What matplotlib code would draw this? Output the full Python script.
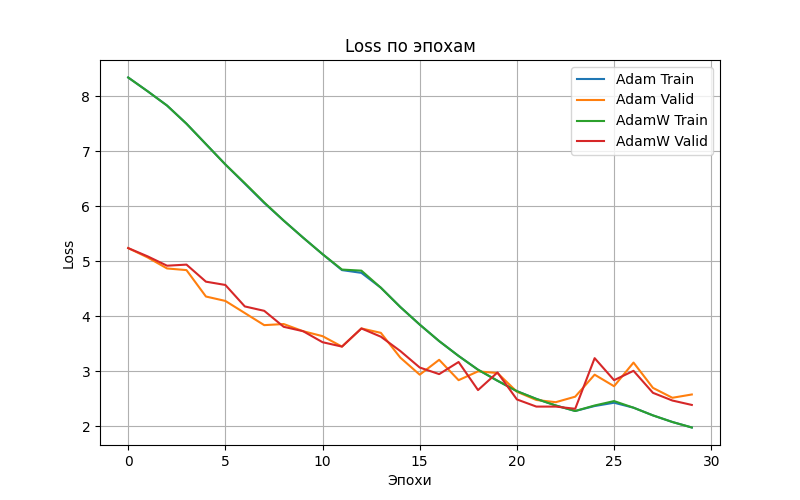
import matplotlib
matplotlib.use("Agg")
from matplotlib import pyplot as plt

epochs = list(range(30))
adam_train = [8.34, 8.09, 7.83, 7.50, 7.13, 6.76, 6.41, 6.06, 5.74, 5.43, 5.13, 4.84, 4.79, 4.52, 4.17,
              3.85, 3.55, 3.28, 3.03, 2.83, 2.64, 2.50, 2.38, 2.28, 2.37, 2.43, 2.34, 2.20, 2.08, 1.98]
adam_valid = [5.24, 5.07, 4.87, 4.84, 4.36, 4.28, 4.06, 3.84, 3.86, 3.73, 3.64, 3.45, 3.78, 3.70, 3.25,
              2.94, 3.21, 2.84, 3.00, 2.97, 2.63, 2.48, 2.44, 2.54, 2.94, 2.73, 3.16, 2.70, 2.52, 2.58]
adamw_train = [8.34, 8.09, 7.83, 7.50, 7.13, 6.76, 6.42, 6.07, 5.74, 5.43, 5.13, 4.85, 4.83, 4.52, 4.17,
               3.85, 3.55, 3.28, 3.03, 2.83, 2.64, 2.50, 2.38, 2.28, 2.38, 2.46, 2.34, 2.20, 2.08, 1.98]
adamw_valid = [5.24, 5.09, 4.92, 4.94, 4.63, 4.57, 4.18, 4.10, 3.81, 3.73, 3.53, 3.45, 3.78, 3.63, 3.37,
               3.07, 2.95, 3.17, 2.66, 2.98, 2.49, 2.36, 2.36, 2.32, 3.24, 2.84, 3.01, 2.61, 2.47, 2.39]

plt.figure(figsize=(8, 5), dpi=100)
plt.plot(epochs, adam_train, label='Adam Train')
plt.plot(epochs, adam_valid, label='Adam Valid')
plt.plot(epochs, adamw_train, label='AdamW Train')
plt.plot(epochs, adamw_valid, label='AdamW Valid')
plt.xlabel('Эпохи')
plt.ylabel('Loss')
plt.title('Loss по эпохам')
plt.legend()
plt.grid()
plt.savefig("out.png")
